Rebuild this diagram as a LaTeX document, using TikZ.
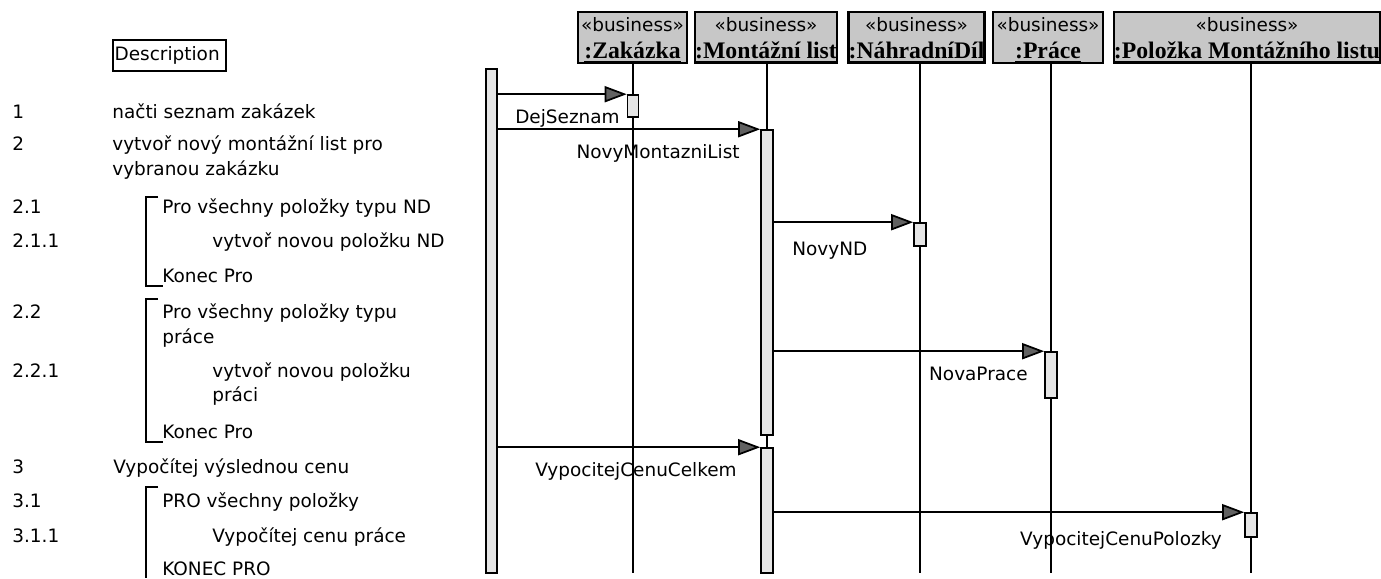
\documentclass[tikz,border=0pt]{standalone}
\usepackage{fontspec}
\setmainfont{DejaVu Sans}
\newfontfamily\objfont{Liberation Serif}
\usetikzlibrary{arrows.meta}
\tikzstyle{txt}=[anchor=base west, inner sep=0, font=\fontsize{10.5}{12}\selectfont]
\tikzstyle{lbl}=[anchor=base east, inner sep=0, font=\fontsize{10.5}{12}\selectfont]
\tikzstyle{hdr}=[draw, line width=1.4pt, fill=black!22, inner sep=0, minimum height=1.02cm, text height=.86cm, text depth=0pt, align=center, font=\fontsize{10.5}{15.4}\selectfont]
\tikzstyle{actv}=[draw, line width=.9pt, fill=black!10, inner sep=0, minimum width=.24cm]
\tikzstyle{life}=[line width=1.1pt]
\tikzstyle{msg}=[line width=1pt, -{Triangle[length=.44cm, width=.32cm, fill=black!62]}]
\tikzstyle{brk}=[line width=1.2pt]
\newcommand{\obj}[1]{{\objfont\bfseries\fontsize{13.5}{15.4}\selectfont\underline{#1}}}

\begin{document}
\begin{tikzpicture}[x=0.02cm, y=-0.02cm]
\useasboundingbox (0,0) rectangle (1381,578);
% left: description
\node at (112,55.5)[draw, line width=1pt, anchor=west, inner xsep=1pt, inner ysep=0, minimum height=.62cm, text width=2.2cm, font=\fontsize{10.5}{12}\selectfont](desc){Description};
\foreach \n/\y [count=\i] in {1/118, 2/150, 2.1/213, 2.1.1/247, 2.2/318, 2.2.1/377, 3/473, 3.1/507, 3.1.1/542}
  \node at (12,\y)[txt](num\i){\n};
\node at (112,118)[txt](d1){načti seznam zakázek};
\node at (112,150)[txt](d2){vytvoř nový montážní list pro};
\node at (112,175)[txt](d2b){vybranou zakázku};
\node at (162,213)[txt](d21){Pro všechny položky typu ND};
\node at (212,247)[txt](d211){vytvoř novou položku ND};
\node at (162,282)[txt](e21){Konec Pro};
\node at (162,318)[txt](d22){Pro všechny položky typu};
\node at (162,343)[txt](d22b){práce};
\node at (212,377)[txt](d221){vytvoř novou položku};
\node at (212,401)[txt](d221b){práci};
\node at (162,438)[txt](e22){Konec Pro};
\node at (113,473)[txt](d3){Vypočítej výslednou cenu};
\node at (162,507)[txt](d31){PRO všechny položky};
\node at (212,542)[txt](d311){Vypočítej cenu práce};
\node at (162,575)[txt](e31){KONEC PRO};
\draw[brk] (158,197) -- (146,197) -- (146,286) -- (163,286);
\draw[brk] (158,299) -- (146,299) -- (146,442) -- (163,442);
\draw[brk] (158,487) -- (146,487) -- (146,578);
% objects
\node at (632.5,37.5)[hdr, minimum width=2.18cm](za){«business»\\ \obj{:Zakázka}};
\node at (766,37.5)[hdr, minimum width=2.84cm](ml){«business»\\ \obj{:Montážní list}};
\node at (916.5,37.5)[hdr, minimum width=2.54cm](nd){«business»\\ \obj{:NáhradníDíl}};
\node at (1048,37.5)[hdr, minimum width=2.2cm](pr){«business»\\ \obj{:Práce}};
\node at (1247,37.5)[hdr, minimum width=5.28cm](pm){«business»\\ \obj{:Položka Montážního listu}};
\coordinate (zaE) at (633,573);
\coordinate (mlE) at (767,573);
\coordinate (ndE) at (920,573);
\coordinate (prE) at (1051,573);
\coordinate (pmE) at (1251,573);
\draw[life] (za.south -| zaE) -- (zaE);
\draw[life] (ml.south -| mlE) -- (mlE);
\draw[life] (nd.south -| ndE) -- (ndE);
\draw[life] (pr.south -| prE) -- (prE);
\draw[life] (pm.south -| pmE) -- (pmE);
% activations
\node at (491.5,321)[actv, minimum width=.22cm, minimum height=10.08cm](act){};
\node at (633,106)[actv, minimum width=.22cm, minimum height=.44cm](za1){};
\node at (767,282.5)[actv, minimum height=6.1cm](ml1){};
\node at (920,234.5)[actv, minimum height=.46cm](nd1){};
\node at (1051,375)[actv, minimum height=.92cm](pr1){};
\node at (767,510.5)[actv, minimum height=2.5cm](ml2){};
\node at (1251,525)[actv, minimum height=.48cm](pm1){};
% messages
\draw[msg] (act.east |- za1.north) -- (za1.north west);
\draw[msg] (act.east |- ml1.north) -- (ml1.north west);
\draw[msg] (ml1.east |- nd1.north) -- (nd1.north west);
\draw[msg] (ml1.east |- pr1.north) -- (pr1.north west);
\draw[msg] (act.east |- ml2.north) -- (ml2.north west);
\draw[msg] (ml2.east |- pm1.north) -- (pm1.north west);
\node at (620,123)[lbl](m1){DejSeznam};
\node at (740,158)[lbl](m2){NovyMontazniList};
\node at (792,255)[lbl, anchor=base west](m3){NovyND};
\node at (1028,380)[lbl](m4){NovaPrace};
\node at (737,476)[lbl](m5){VypocitejCenuCelkem};
\node at (1222,545)[lbl](m6){VypocitejCenuPolozky};
\end{tikzpicture}
\end{document}
